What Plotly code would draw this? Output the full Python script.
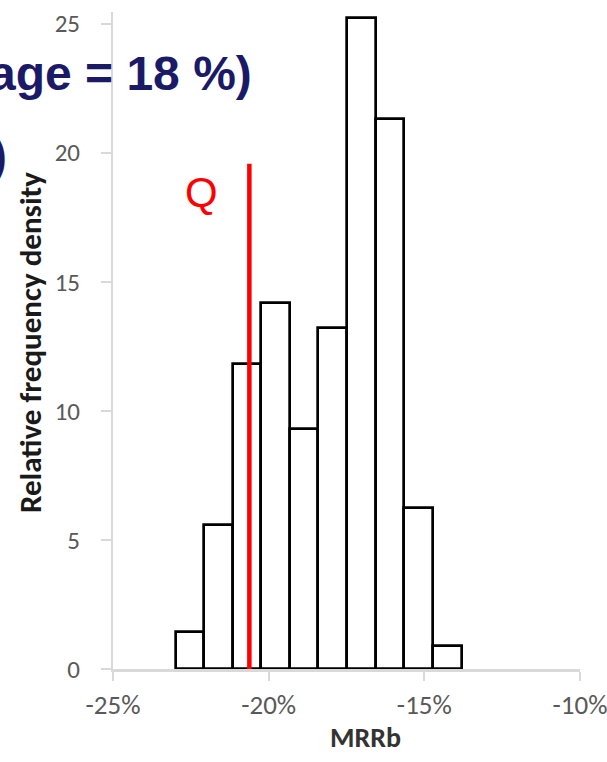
import plotly.graph_objects as go

# ---- data ----
bin_edges = [-22.97, -22.07, -21.16, -20.24, -19.30, -18.42, -17.48, -16.54, -15.64, -14.72, -13.79]
density = [1.42, 5.58, 11.8, 14.19, 9.28, 13.2, 25.23, 21.29, 6.24, 0.9]
q_value = -20.62
q_top = 19.57
x_ticks = [-25, -20, -15, -10]
x_tick_labels = ["-25%", "-20%", "-15%", "-10%"]
y_ticks = [0, 5, 10, 15, 20, 25]
y_tick_labels = ["0", "5", "10", "15", "20", "25"]

centers = [(a + b) / 2 for a, b in zip(bin_edges[:-1], bin_edges[1:])]
widths = [b - a for a, b in zip(bin_edges[:-1], bin_edges[1:])]

W, H = 607, 762
ML, MR, MT, MB = 113, 27, 12, 93
PW = W - ML - MR
PH = H - MT - MB


def px_x(p):
    return (p - ML) / PW


def px_y(p):
    return (H - MB - p) / PH


fig = go.Figure()
fig.add_trace(go.Bar(
    x=centers, y=density, width=widths,
    marker=dict(color="white", line=dict(color="black", width=2.7)),
    showlegend=False, hoverinfo="skip",
))
fig.add_trace(go.Scatter(
    x=[q_value, q_value], y=[0, q_top], mode="lines",
    line=dict(color="#ff0000", width=4.5),
    showlegend=False, hoverinfo="skip",
))

tick_font = "Calibri, Carlito, Lato, sans-serif"
axis_gray = "#d9d9d9"

fig.update_layout(
    width=W, height=H, autosize=False,
    margin=dict(l=ML, r=MR, t=MT, b=MB, pad=0, autoexpand=False),
    paper_bgcolor="white", plot_bgcolor="white",
    bargap=0,
    xaxis=dict(
        range=[-25, -10], tickvals=x_ticks, ticktext=x_tick_labels,
        showgrid=False, zeroline=False, automargin=False,
        showline=True, linecolor=axis_gray, linewidth=2.8,
        ticks="outside", ticklen=9, tickwidth=2, tickcolor=axis_gray,
        tickfont=dict(family=tick_font, size=27, color="#595959"),
        ticklabelstandoff=1, ticklabeloverflow="allow",
    ),
    yaxis=dict(
        range=[0, 25.45], tickvals=y_ticks, ticktext=y_tick_labels,
        showgrid=False, zeroline=False, automargin=False,
        showline=True, linecolor=axis_gray, linewidth=2,
        ticks="outside", ticklen=10, tickwidth=2, tickcolor=axis_gray,
        tickfont=dict(family=tick_font, size=25, color="#595959"),
        ticklabelstandoff=16,
    ),
    annotations=[
        dict(text="age = 18 %)", xref="paper", yref="paper",
             x=px_x(254), y=px_y(73), xanchor="right", yanchor="middle",
             showarrow=False,
             font=dict(family="Arial, Liberation Sans, sans-serif", size=48,
                       color="#1a1a66", weight="bold")),
        dict(text=")", xref="paper", yref="paper",
             x=px_x(9), y=px_y(155), xanchor="right", yanchor="middle",
             showarrow=False,
             font=dict(family="Arial, Liberation Sans, sans-serif", size=48,
                       color="#1a1a66", weight="bold")),
        dict(text="Q", xref="x", yref="y", x=-22.17, y=18.45,
             xanchor="center", yanchor="middle", showarrow=False,
             font=dict(family="Arial, Liberation Sans, sans-serif", size=42,
                       color="#ff0000")),
        dict(text="Relative frequency density", xref="paper", yref="paper",
             x=px_x(30), y=px_y(343), xanchor="center", yanchor="middle",
             textangle=-90, showarrow=False,
             font=dict(family=tick_font, size=31, color="#1a1a1a",
                       weight="bold")),
        dict(text="MRRb", xref="paper", yref="paper",
             x=px_x(365), y=px_y(737), xanchor="center", yanchor="middle",
             showarrow=False,
             font=dict(family=tick_font, size=28, color="#333333",
                       weight="bold")),
    ],
)

fig.write_html("out.html")
